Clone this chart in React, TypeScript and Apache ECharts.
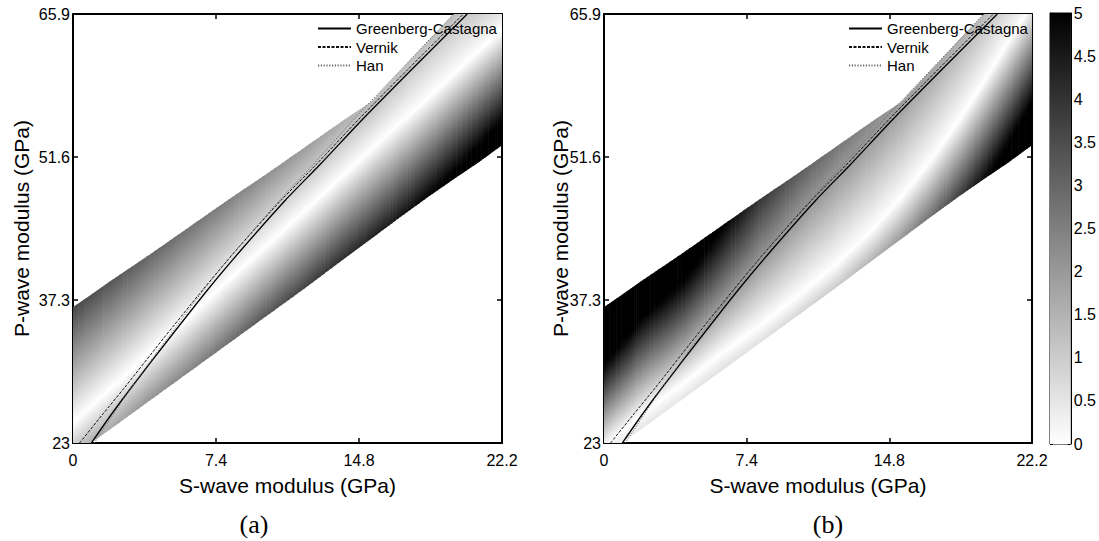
import React, { useEffect, useRef } from "react";
import * as echarts from "echarts";

const FONT = "'Liberation Sans', Arial, Helvetica, sans-serif";
const SERIF = "'Liberation Serif', 'Times New Roman', serif";

// axis ticks
const xTicks = [0, 7.4, 14.8, 22.2];
const yTicks = [23, 37.3, 51.6, 65.9];
const cbRange = [0, 5];

// band geometry (S-wave modulus stations, GPa)
const bandS = [0, 0.9, 2, 4, 6, 8, 10, 12, 14, 15.4, 17, 18.5, 19.7, 21, 22.2];
const bandUpper = [36.6, 37.8, 39.3, 41.9, 44.6, 47.3, 49.9, 52.6, 55.3, 57.1, 60.4, 63.5, 65.9, 65.9, 65.9];
const bandLower = [23, 23, 24.5, 27.3, 30.1, 32.9, 35.7, 38.5, 41.4, 43.4, 45.7, 47.8, 49.4, 51.1, 52.8];

// panel (a): position of the white ridge and values at the band edges
const ridgeA = [25, 26.6, 28.5, 32.1, 35.6, 39.2, 42.7, 46.2, 49.8, 52.3, 55.1, 57.7, 59.9, 62.2, 64.3];
const upperValA = [3.6, 3.45, 3.3, 3.0, 2.75, 2.5, 2.2, 1.95, 1.6, 1.4, 1.3, 1.3, 1.3, 0.9, 0.45];
const lowerValA = [0.86, 1.55, 1.7, 2.1, 2.4, 2.8, 3.3, 3.7, 4.1, 4.3, 4.6, 5.0, 5.4, 5.9, 6.3];

// panel (b)
const ridgeB = [22.5, 24.1, 26, 28.8, 31.8, 34.6, 37.6, 40.8, 44.5, 47.5, 51.4, 55.5, 59.1, 63.2, 67];
const upperValB = [8.5, 7.8, 7.0, 6.5, 5.2, 4.0, 3.2, 2.7, 2.3, 2.0, 1.8, 1.6, 1.4, 0.6, 0];
const lowerValB = [0.3, 0.4, 0.5, 0.5, 0.6, 0.6, 0.8, 1.0, 1.5, 2.0, 2.8, 3.8, 4.8, 6.0, 7.2];

// trend lines
const lineP = [23, 25.9, 28.5, 33.5, 38.4, 42.3, 47.3, 50.8, 55.4, 60.3, 65.9];
const gcS = [0.95, 2, 3, 5, 7, 8.7, 11, 12.76, 15, 17.5, 20.4];
const vernikS = [0.34, 1.55, 2.65, 4.7, 6.75, 8.45, 10.78, 12.56, 14.8, 17.3, 20.2];
const hanS = [1.1, 2.1, 3.0, 4.9, 6.8, 8.45, 10.7, 12.4, 14.55, 16.95, 19.7];

const names = ["Greenberg-Castagna", "Vernik", "Han"];

function gray(v: number) {
  const c = Math.max(0, Math.min(5, v));
  const g = Math.round(255 * (1 - c / 5));
  return `rgb(${g},${g},${g})`;
}

function bandSeries(ridge: number[], upVal: number[], lowVal: number[], idx: number) {
  const nI = bandS.length - 1;
  return {
    type: "custom",
    xAxisIndex: idx * 2,
    yAxisIndex: idx * 2,
    silent: true,
    z: 1,
    data: bandS.slice(0, -1).map((s, i) => [s, bandS[i + 1], i]),
    renderItem: (params: any, api: any) => {
      const i = api.value(2);
      const SUB = 10;
      const children: any[] = [];
      const lerp = (arr: number[], f: number) => arr[i] + (arr[i + 1] - arr[i]) * f;
      const r0 = api.coord([bandS[i], ridge[i]]);
      const r1 = api.coord([bandS[i + 1], ridge[i + 1]]);
      let dx = r1[0] - r0[0];
      let dy = r1[1] - r0[1];
      const len = Math.hypot(dx, dy) || 1;
      dx /= len;
      dy /= len;
      for (let k = 0; k < SUB; k++) {
        const f0 = k / SUB;
        const f1 = (k + 1) / SUB;
        const fc = (k + 0.5) / SUB;
        const s0 = lerp(bandS, f0);
        const s1 = lerp(bandS, f1);
        const sc = lerp(bandS, fc);
        const p0 = api.coord([s0, lerp(bandUpper, f0)]);
        const p1 = api.coord([s1, lerp(bandUpper, f1)]);
        const p2 = api.coord([s1, lerp(bandLower, f1)]);
        const p3 = api.coord([s0, lerp(bandLower, f0)]);
        const ext = i === nI - 1 && k === SUB - 1 ? 0 : 0.6;
        p1[0] += ext;
        p2[0] += ext;
        const U = api.coord([sc, lerp(bandUpper, fc)]);
        const L = api.coord([sc, lerp(bandLower, fc)]);
        const R = api.coord([sc, lerp(ridge, fc)]);
        let nx = -dy;
        let ny = dx;
        let D = (L[0] - U[0]) * nx + (L[1] - U[1]) * ny;
        if (D < 0) {
          nx = -nx;
          ny = -ny;
          D = -D;
        }
        const tR = (R[1] - U[1]) / (L[1] - U[1]);
        const vu = lerp(upVal, fc);
        const vl = lerp(lowVal, fc);
        const valueAt = (t: number) => {
          if (t <= tR) {
            if (tR > 0.001) return (vu * (tR - t)) / tR;
            return (vl * (tR - t)) / (1 - tR);
          }
          if (tR < 0.999) return (vl * (t - tR)) / (1 - tR);
          return (vu * (t - tR)) / tR;
        };
        const tmin = -0.5;
        const tmax = 1.5;
        const offs: number[] = [];
        const N = 40;
        for (let j = 0; j <= N; j++) offs.push(j / N);
        const fr = (tR - tmin) / (tmax - tmin);
        if (fr > 0 && fr < 1) offs.push(fr);
        offs.sort((a, b) => a - b);
        const colorStops = offs.map((o) => ({ offset: o, color: gray(valueAt(tmin + o * (tmax - tmin))) }));
        children.push({
          type: "polygon",
          shape: { points: [p0, p1, p2, p3] },
          style: {
            fill: {
              type: "linear",
              x: U[0] + nx * D * tmin,
              y: U[1] + ny * D * tmin,
              x2: U[0] + nx * D * tmax,
              y2: U[1] + ny * D * tmax,
              global: true,
              colorStops,
            },
            stroke: null,
          },
        });
      }
      return { type: "group", children };
    },
  };
}

function lineSeries(name: string, S: number[], idx: number, lineStyle: any) {
  return {
    type: "line",
    name,
    xAxisIndex: idx * 2,
    yAxisIndex: idx * 2,
    data: S.map((s, i) => [s, lineP[i]]),
    showSymbol: false,
    symbol: "none",
    smooth: 0.25,
    clip: true,
    silent: true,
    z: 3,
    color: "#000",
    itemStyle: { color: "#000", opacity: 0 },
    lineStyle,
  };
}

const gcStyle = { color: "#000", width: 1.3, type: "solid" };
const vernikStyle = { color: "#111", width: 1, type: [3, 1.5] };
const hanStyle = { color: "#666", width: 1, type: [1.2, 1.6] };

function xAxisDef(gridIndex: number, position: string, showLabel: boolean) {
  return {
    type: "value",
    gridIndex,
    position,
    min: xTicks[0],
    max: xTicks[xTicks.length - 1],
    axisLine: { show: true, onZero: false, lineStyle: { color: "#000", width: 2 } },
    axisTick: { show: true, inside: true, length: 5, customValues: xTicks, lineStyle: { color: "#000", width: 1.5 } },
    axisLabel: {
      show: showLabel,
      customValues: xTicks,
      color: "#000",
      fontSize: 16,
      fontFamily: FONT,
      margin: 9,
      formatter: (v: number) => String(v),
    },
    splitLine: { show: false },
  };
}

function yAxisDef(gridIndex: number, position: string, showLabel: boolean) {
  return {
    type: "value",
    gridIndex,
    position,
    min: yTicks[0],
    max: yTicks[yTicks.length - 1],
    axisLine: { show: true, onZero: false, lineStyle: { color: "#000", width: 2 } },
    axisTick: { show: true, inside: true, length: 5, customValues: yTicks, lineStyle: { color: "#000", width: 1.5 } },
    axisLabel: {
      show: showLabel,
      customValues: yTicks,
      color: "#000",
      fontSize: 16,
      fontFamily: FONT,
      margin: 3,
      formatter: (v: number) => String(v),
    },
    splitLine: { show: false },
  };
}

function cbAxisDef(position: string, showLabel: boolean) {
  return {
    type: "value",
    gridIndex: 2,
    position,
    min: cbRange[0],
    max: cbRange[1],
    interval: 0.5,
    axisLine: { show: true, onZero: false, lineStyle: { color: "#000", width: 1 } },
    axisTick: { show: true, inside: true, length: 3, lineStyle: { color: "#000", width: 1 } },
    axisLabel: { show: showLabel, color: "#000", fontSize: 16, fontFamily: FONT, margin: 3 },
    splitLine: { show: false },
  };
}

function legendDef(left: number) {
  return {
    data: names,
    left,
    top: 21,
    orient: "vertical",
    itemWidth: 33,
    itemHeight: 12,
    itemGap: 3.5,
    padding: 0,
    selectedMode: false,
    itemStyle: { opacity: 0, borderWidth: 0 },
    textStyle: { fontSize: 15, color: "#000", fontFamily: FONT },
  };
}

function textEl(text: string, x: number, y: number, font: string, rotation = 0) {
  return {
    type: "text",
    x,
    y,
    rotation,
    silent: true,
    style: {
      text,
      font,
      fill: "#000",
      align: "center",
      verticalAlign: "middle",
      textAlign: "center",
      textVerticalAlign: "middle",
    },
  };
}

export default function App() {
  const ref = useRef<HTMLDivElement>(null);
  useEffect(() => {
    if (!ref.current) return;
    const chart = echarts.init(ref.current, undefined, { renderer: "svg" });
    const option: any = {
      animation: false,
      backgroundColor: "#fff",
      grid: [
        { left: 73, top: 14, width: 429, height: 429 },
        { left: 604, top: 14, width: 428, height: 429 },
        { left: 1050, top: 13, width: 21, height: 431, show: true, borderColor: "#000", borderWidth: 1, backgroundColor: "transparent" },
      ],
      xAxis: [
        xAxisDef(0, "bottom", true),
        xAxisDef(0, "top", false),
        xAxisDef(1, "bottom", true),
        xAxisDef(1, "top", false),
        { type: "value", gridIndex: 2, min: 0, max: 1, show: false },
      ],
      yAxis: [
        yAxisDef(0, "left", true),
        yAxisDef(0, "right", false),
        yAxisDef(1, "left", true),
        yAxisDef(1, "right", false),
        cbAxisDef("left", false),
        cbAxisDef("right", true),
      ],
      legend: [legendDef(317), legendDef(848)],
      series: [
        bandSeries(ridgeA, upperValA, lowerValA, 0),
        bandSeries(ridgeB, upperValB, lowerValB, 1),
        lineSeries(names[0], gcS, 0, gcStyle),
        lineSeries(names[1], vernikS, 0, vernikStyle),
        lineSeries(names[2], hanS, 0, hanStyle),
        lineSeries(names[0], gcS, 1, gcStyle),
        lineSeries(names[1], vernikS, 1, vernikStyle),
        lineSeries(names[2], hanS, 1, hanStyle),
        {
          type: "custom",
          xAxisIndex: 4,
          yAxisIndex: 4,
          silent: true,
          data: [[0, 1, cbRange[0], cbRange[1]]],
          renderItem: (params: any, api: any) => {
            const a = api.coord([api.value(0), api.value(3)]);
            const b = api.coord([api.value(1), api.value(2)]);
            return {
              type: "rect",
              shape: { x: a[0], y: a[1], width: b[0] - a[0], height: b[1] - a[1] },
              style: {
                fill: {
                  type: "linear",
                  x: 0,
                  y: 0,
                  x2: 0,
                  y2: 1,
                  colorStops: [
                    { offset: 0, color: gray(cbRange[1]) },
                    { offset: 1, color: gray(cbRange[0]) },
                  ],
                },
              },
            };
          },
        },
      ],
      graphic: [
        textEl("S-wave modulus (GPa)", 287.5, 485, `21px ${FONT}`),
        textEl("S-wave modulus (GPa)", 818, 485, `21px ${FONT}`),
        textEl("P-wave modulus (GPa)", 21, 228.5, `21px ${FONT}`, Math.PI / 2),
        textEl("P-wave modulus (GPa)", 560, 228.5, `21px ${FONT}`, Math.PI / 2),
        textEl("(a)", 254, 524, `26px ${SERIF}`),
        textEl("(b)", 828, 524, `26px ${SERIF}`),
      ],
    };
    chart.setOption(option);
    return () => chart.dispose();
  }, []);
  return <div ref={ref} style={{ position: "fixed", left: 0, top: 0, width: 1099, height: 541 }} />;
}
